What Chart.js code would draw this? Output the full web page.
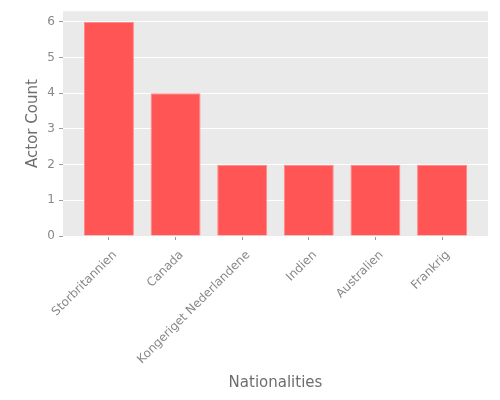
<!DOCTYPE html>
<html>
<head>
<meta charset="utf-8">
<script src="https://cdn.jsdelivr.net/npm/chart.js@4/dist/chart.umd.min.js"></script>
<style>html,body{margin:0;padding:0;background:#fff;}</style>
</head>
<body>
<canvas id="c" width="500" height="400"></canvas>
<script>
const categories = ["Storbritannien", "Canada", "Kongeriget Nederlandene", "Indien", "Australien", "Frankrig"];
const actorCounts = [6, 4, 2, 2, 2, 2];
const yTicks = [0, 1, 2, 3, 4, 5, 6];

const bgPlugin = {
  id: 'bg',
  beforeDraw(chart) {
    const {ctx, chartArea: a} = chart;
    ctx.save();
    ctx.fillStyle = '#EAEAEA';
    ctx.fillRect(a.left, a.top, a.right - a.left, a.bottom - a.top);
    ctx.restore();
  }
};

const font = {family: 'DejaVu Sans', size: 12};
const titleFont = {family: 'DejaVu Sans', size: 15, weight: 'normal'};
new Chart(document.getElementById('c'), {
  type: 'bar',
  data: {
    datasets: [{
      data: categories.map((c, i) => ({x: i, y: actorCounts[i]})),
      backgroundColor: '#FF5555',
      borderColor: '#FF8A8A',
      borderWidth: 1,
      barPercentage: 0.75,
      categoryPercentage: 1
    }]
  },
  options: {
    responsive: false,
    devicePixelRatio: 1,
    animation: false,
    layout: {padding: {left: 20, right: 12, top: 10, bottom: 6}},
    plugins: {legend: {display: false}, tooltip: {enabled: false}},
    scales: {
      x: {
        type: 'linear',
        offset: false,
        min: -0.69,
        max: 5.69,
        afterBuildTicks(s) { s.ticks = categories.map((c, i) => ({value: i})); },
        afterFit(s) { s.height = 400 - 236 - 6; },
        border: {display: false},
        grid: {drawOnChartArea: false, drawTicks: true, tickLength: 4, tickColor: '#999', color: '#999', offset: false},
        ticks: {
          color: '#888', font: font, maxRotation: 45, minRotation: 45, padding: 8, labelOffset: 6, autoSkip: false,
          callback: (v) => categories[v]
        },
        title: {display: true, text: 'Nationalities', color: '#6e6e6e', font: titleFont, padding: {top: 4, bottom: 2}}
      },
      y: {
        min: 0,
        max: 6.3,
        afterBuildTicks(s) { s.ticks = yTicks.map(v => ({value: v})); },
        afterFit(s) { s.width = 63 - 20; },
        border: {display: false},
        grid: {color: '#FFFFFF', lineWidth: 1, drawTicks: true, tickLength: 4, tickColor: '#999'},
        ticks: {color: '#888', font: font, padding: 4},
        title: {display: true, text: 'Actor Count', color: '#6e6e6e', font: titleFont, padding: {top: 4, bottom: 4}}
      }
    }
  },
  plugins: [bgPlugin]
});
</script>
</body>
</html>
